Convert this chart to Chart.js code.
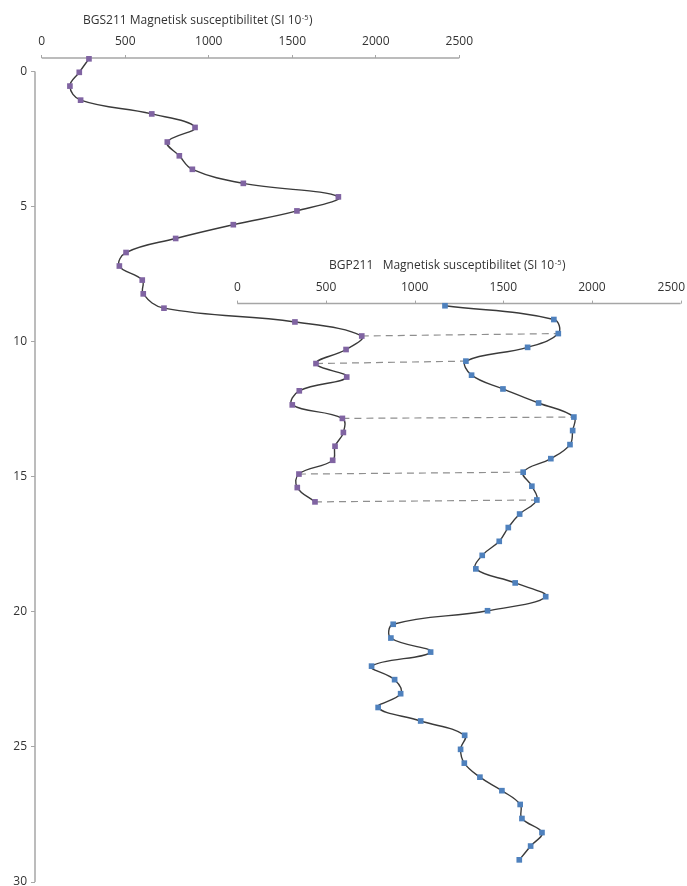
<!DOCTYPE html>
<html>
<head>
<meta charset="utf-8">
<title>Magnetisk susceptibilitet BGS211 / BGP211</title>
<script src="https://cdn.jsdelivr.net/npm/chart.js@4.4.1/dist/chart.umd.min.js"></script>
<style>
  html, body { margin: 0; padding: 0; background: #ffffff; }
  #wrap { width: 687px; height: 886px; }
</style>
</head>
<body>
<div id="wrap"><canvas id="log" width="687" height="886"></canvas></div>
<script>
// BGS211 core: sample depth (m) and magnetic susceptibility (SI 10^-5)
const bgsDepth = [-0.47, 0.03, 0.54, 1.06, 1.57, 2.07, 2.61, 3.12, 3.62, 4.14, 4.64, 5.16, 5.67,
  6.18, 6.70, 7.20, 7.72, 8.23, 8.76, 9.27, 9.79, 10.29, 10.81, 11.31, 11.82, 12.34, 12.84,
  13.36, 13.87, 14.39, 14.90, 15.40, 15.93];
const bgsSusc = [283, 225, 169, 233, 659, 918, 752, 824, 902, 1207, 1776, 1528, 1147,
  802, 505, 465, 602, 608, 732, 1516, 1916, 1822, 1642, 1826, 1542, 1500, 1800,
  1806, 1756, 1742, 1540, 1530, 1636];

// BGP211 core: sample depth (m) and magnetic susceptibility (SI 10^-5)
const bgpDepth = [8.67, 9.18, 9.70, 10.21, 10.72, 11.24, 11.75, 12.27, 12.79, 13.29, 13.81,
  14.33, 14.83, 15.35, 15.86, 16.38, 16.88, 17.39, 17.91, 18.41, 18.93, 19.44, 19.96, 20.46,
  20.97, 21.49, 22.01, 22.51, 23.03, 23.54, 24.04, 24.57, 25.09, 25.60, 26.12, 26.62, 27.13,
  27.65, 28.17, 28.67, 29.18];
const bgpSusc = [1171, 1785, 1810, 1637, 1289, 1321, 1498, 1699, 1898, 1891, 1876,
  1768, 1612, 1661, 1689, 1592, 1528, 1477, 1381, 1345, 1567, 1739, 1411, 879,
  866, 1090, 757, 887, 921, 794, 1034, 1282, 1259, 1280, 1368, 1492, 1595,
  1605, 1718, 1654, 1590];

// Correlated levels: [BGS211 sample index, BGP211 sample index]
const tiePairs = [[20, 2], [22, 4], [26, 8], [30, 12], [32, 14]];

// Axis ticks
const suscTicks = [0, 500, 1000, 1500, 2000, 2500];
const depthTicks = [0, 5, 10, 15, 20, 25, 30];

// Axis titles (unit exponent drawn as superscript)
const bgsTitle = 'BGS211 Magnetisk susceptibilitet (SI 10';
const bgpTitle = 'BGP211   Magnetisk susceptibilitet (SI 10';
const unitExp = '-5';

// ---- styling / layout ----
const FONT = '"Open Sans", "Noto Sans", "DejaVu Sans", sans-serif';
const TEXT = '#333333';
const AXIS_GREY = '#a6a6a6';
const LINE = '#3a3a3a';
const TICK_LEN = 3;
const TICK_PAD = 6;
const bgpAxisDepth = 8.59;        // depth at which the BGP211 axis is hung
const bgsTitleAt = { x: 83, y: 24 };
const bgpTitleLeft = 329;
const bgpTitleRise = 34.5;

function stroke(ctx, x1, y1, x2, y2) {
  ctx.beginPath();
  ctx.moveTo(x1, y1);
  ctx.lineTo(x2, y2);
  ctx.stroke();
}

function drawTitle(ctx, text, x, y) {
  ctx.font = '12px ' + FONT;
  ctx.fillStyle = TEXT;
  ctx.textAlign = 'left';
  ctx.textBaseline = 'alphabetic';
  ctx.fillText(text, x, y);
  let cx = x + ctx.measureText(text).width;
  ctx.font = '7.5px ' + FONT;
  ctx.fillText(unitExp, cx + 0.5, y - 4.5);
  cx += ctx.measureText(unitExp).width + 1;
  ctx.font = '12px ' + FONT;
  ctx.fillText(')', cx, y);
}

const logAxes = {
  id: 'logAxes',
  beforeDatasetsDraw(chart) {
    const { ctx, chartArea, scales } = chart;
    const y = scales.y, xS = scales.xS, xP = scales.xP;
    const first = suscTicks[0], last = suscTicks[suscTicks.length - 1];
    ctx.save();
    ctx.strokeStyle = AXIS_GREY;
    ctx.lineWidth = 1.5;
    // depth axis
    stroke(ctx, chartArea.left, y.getPixelForValue(depthTicks[0]),
      chartArea.left, y.getPixelForValue(depthTicks[depthTicks.length - 1]));
    // BGS211 axis line
    stroke(ctx, xS.getPixelForValue(first), chartArea.top, xS.getPixelForValue(last), chartArea.top);
    // BGP211 axis line, ticks and labels
    const py = y.getPixelForValue(bgpAxisDepth);
    stroke(ctx, xP.getPixelForValue(first), py, xP.getPixelForValue(last), py);
    ctx.lineWidth = 1;
    ctx.font = '12px ' + FONT;
    ctx.fillStyle = TEXT;
    ctx.textAlign = 'center';
    ctx.textBaseline = 'middle';
    suscTicks.forEach(v => {
      const px = Math.round(xP.getPixelForValue(v)) + 0.5;
      stroke(ctx, px, py - TICK_LEN, px, py);
      const label = String(v);
      const half = ctx.measureText(label).width / 2;
      // keep the outermost label inside the canvas
      const lx = Math.min(xP.getPixelForValue(v), chart.width - half - 2);
      ctx.fillText(label, lx, py - TICK_LEN - TICK_PAD - 7.2);
    });
    // correlation ties
    ctx.strokeStyle = '#8f8f8f';
    ctx.lineWidth = 1.2;
    ctx.setLineDash([7, 5]);
    tiePairs.forEach(([i, j]) => {
      stroke(ctx, xS.getPixelForValue(bgsSusc[i]), y.getPixelForValue(bgsDepth[i]),
        xP.getPixelForValue(bgpSusc[j]), y.getPixelForValue(bgpDepth[j]));
    });
    ctx.restore();
  },
  afterDraw(chart) {
    const { ctx, scales } = chart;
    ctx.save();
    drawTitle(ctx, bgsTitle, bgsTitleAt.x, bgsTitleAt.y);
    const py = scales.y.getPixelForValue(bgpAxisDepth);
    drawTitle(ctx, bgpTitle, bgpTitleLeft, py - bgpTitleRise);
    ctx.restore();
  }
};

function series(depths, values) {
  return depths.map((d, i) => ({ x: values[i], y: d }));
}

const lineStyle = {
  showLine: true,
  borderColor: LINE,
  borderWidth: 1.4,
  tension: 0.4,
  pointStyle: 'rect',
  pointRadius: 4,
  pointBorderWidth: 0,
  clip: false
};

new Chart(document.getElementById('log'), {
  type: 'scatter',
  data: {
    datasets: [
      Object.assign({
        label: 'BGS211',
        data: series(bgsDepth, bgsSusc),
        xAxisID: 'xS', yAxisID: 'y',
        pointBackgroundColor: '#8064a2',
        pointBorderColor: '#8064a2'
      }, lineStyle),
      Object.assign({
        label: 'BGP211',
        data: series(bgpDepth, bgpSusc),
        xAxisID: 'xP', yAxisID: 'y',
        pointBackgroundColor: '#4f81bd',
        pointBorderColor: '#4f81bd'
      }, lineStyle)
    ]
  },
  options: {
    responsive: false,
    animation: false,
    events: [],
    layout: { padding: { left: 0, top: 0, right: 6, bottom: 4 } },
    plugins: { legend: { display: false }, tooltip: { enabled: false } },
    scales: {
      y: {
        type: 'linear',
        position: 'left',
        reverse: true,
        min: -0.5,
        max: 30,
        afterBuildTicks: s => { s.ticks = depthTicks.map(v => ({ value: v })); },
        afterFit: s => { s.width = 35; s.paddingTop = 0; s.paddingBottom = 0; },
        ticks: { color: TEXT, font: { family: FONT, size: 12 }, padding: 4, autoSkip: false,
          callback: v => String(v) },
        grid: { drawOnChartArea: false, tickLength: 4, color: AXIS_GREY, lineWidth: 1 },
        border: { display: false }
      },
      xS: {
        type: 'linear',
        axis: 'x',
        position: 'top',
        min: -40,
        max: 3827,
        afterBuildTicks: s => { s.ticks = suscTicks.map(v => ({ value: v })); },
        afterFit: s => { s.height = 58; s.paddingLeft = 0; s.paddingRight = 0; },
        ticks: { color: TEXT, font: { family: FONT, size: 12 }, padding: TICK_PAD,
          maxRotation: 0, autoSkip: false, callback: v => String(v) },
        grid: { drawOnChartArea: false, tickLength: TICK_LEN, color: AXIS_GREY, lineWidth: 1 },
        border: { display: false }
      },
      xP: {
        type: 'linear',
        axis: 'x',
        display: false,
        min: -1141,
        max: 2502
      }
    }
  },
  plugins: [logAxes]
});
</script>
</body>
</html>
